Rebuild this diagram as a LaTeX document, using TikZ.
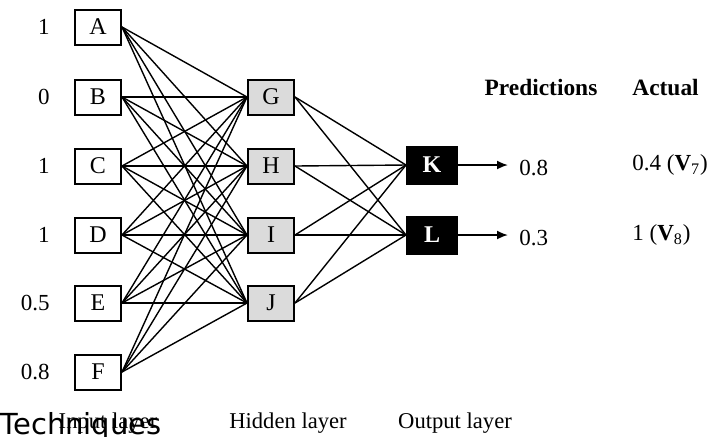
\documentclass[tikz,border=0pt]{standalone}
\usepackage{fontspec}
\setmainfont{Liberation Serif}
\newfontfamily\techfont{DejaVu Sans}
\usetikzlibrary{arrows.meta}
\begin{document}
\begin{tikzpicture}[x=0.5pt,y=-0.5pt,
  inbox/.style={draw,line width=1pt,minimum width=23pt,minimum height=17.5pt,inner sep=0pt,font=\fontsize{12}{14}\selectfont},
  hidbox/.style={inbox,fill=black!14},
  outbox/.style={draw,fill=black,text=white,line width=1pt,minimum width=25pt,minimum height=18.5pt,inner sep=0pt,font=\bfseries\fontsize{12}{14}\selectfont},
  val/.style={font=\fontsize{11.5}{13}\selectfont,inner sep=0pt},
  wire/.style={line width=0.7pt},
  caption/.style={font=\fontsize{11.3}{13}\selectfont,anchor=base,inner sep=0pt}]
\useasboundingbox (0,0) rectangle (721,436);

% input layer
\foreach \n/\y/\v in {A/27/1,B/97/0,C/166/1,D/235/1,E/303/0.5,F/372/0.8}{
  \node[inbox] (\n) at (98,\y) {\n};
  \node[val,anchor=east] (v\n) at (50,\y) {\v};
}
% hidden layer
\foreach \n/\y in {G/97,H/166,I/235,J/303}{
  \node[hidbox] (\n) at (271,\y) {\n};
}
% output layer
\node[outbox] (K) at (432,165) {K};
\node[outbox] (L) at (432,235) {L};

% connections input -> hidden
\foreach \a in {A,B,C,D,E,F}{
  \foreach \b in {G,H,I,J}{
    \draw[wire] (\a.east) -- (\b.west);
  }
}
% connections hidden -> output
\foreach \a in {G,H,I,J}{
  \foreach \b in {K,L}{
    \draw[wire] (\a.east) -- (\b.west);
  }
}

% predictions and actual values
\coordinate (kend) at (508,165);
\coordinate (lend) at (508,235);
\draw[line width=0.9pt,-{Latex[length=5.5pt,width=4.5pt]}] (K.east) -- (kend);
\draw[line width=0.9pt,-{Latex[length=5.5pt,width=4.5pt]}] (L.east) -- (lend);
\node[val,anchor=west] (pk) at (519,168) {0.8};
\node[val,anchor=west] (pl) at (519,238) {0.3};
\node[val,anchor=west] (ak) at (632,165) {0.4 (\textbf{V}\textsubscript{7})};
\node[val,anchor=west] (al) at (632,235) {1 (\textbf{V}\textsubscript{8})};
\node[val,anchor=base,font=\bfseries\fontsize{11.7}{13}\selectfont] (hp) at (541,95) {Predictions};
\node[val,anchor=base west,font=\bfseries\fontsize{11.7}{13}\selectfont] (ha) at (632,95) {Actual};

% layer captions
\node[caption] (cin) at (108,428) {Input layer};
\node[caption] (chid) at (288,428) {Hidden layer};
\node[caption] (cout) at (455,428) {Output layer};
\node[anchor=base west,inner sep=0pt,font=\techfont\fontsize{14.5}{16}\selectfont] (tech) at (0,434) {Techniques};
\end{tikzpicture}
\end{document}
